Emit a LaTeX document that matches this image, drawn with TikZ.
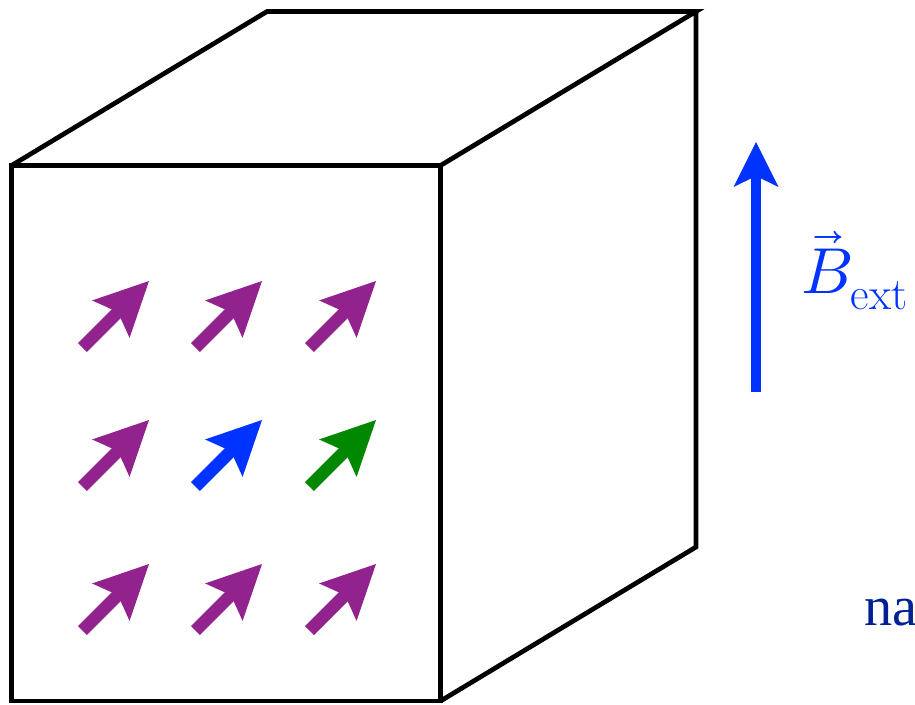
\documentclass[tikz,border=0pt]{standalone}
\usepackage{fontspec}
\usepackage{unicode-math}
\newfontfamily\tmsfont{Liberation Serif}
\usetikzlibrary{arrows.meta}
\definecolor{spinpurple}{RGB}{146,35,142}
\definecolor{spinblue}{RGB}{0,51,255}
\definecolor{spingreen}{RGB}{0,136,0}
\definecolor{labelnavy}{RGB}{0,32,150}
\tikzset{
  edge/.style   = {line width=0.094cm, line join=miter},
  spin/.style   = {line width=0.254cm,
                   -{Stealth[length=1.08cm, width=1.06cm, inset=0.2cm, line width=0pt]}},
  field/.style  = {spinblue, line width=0.2cm,
                   -{Stealth[length=0.9cm, width=0.9cm, inset=0.22cm, line width=0pt]}},
  biglabel/.style = {font=\fontsize{37}{44}\selectfont, inner sep=0pt, anchor=base west},
  nalabel/.style  = {font=\tmsfont\fontsize{32}{38}\selectfont, inner sep=0pt, anchor=base west},
}

\begin{document}
\begin{tikzpicture}[x=0.02cm,y=-0.02cm]
 \useasboundingbox (0,0) rectangle (915,704);
 % cube corners (front face, then back)
 \coordinate (ftl) at (11.5,165.5);
 \coordinate (ftr) at (440.5,165.5);
 \coordinate (fbr) at (440.5,701);
 \coordinate (fbl) at (11.5,701);
 \coordinate (btl) at (267,11.5);
 \coordinate (btr) at (696,11.5);
 \coordinate (bbr) at (696,547);
 \draw[edge] (ftl) -- (ftr) -- (fbr) -- (fbl) -- cycle;
 \draw[edge] (ftl) -- (btl) -- (btr) -- (ftr);
 \draw[edge] (btr) -- (bbr) -- (fbr);
 % spins on the front face
 \foreach \px/\py/\clr in {149/281/spinpurple, 262/281/spinpurple, 376/281/spinpurple,
                           149/420/spinpurple, 262/420/spinblue,   376/420/spingreen,
                           149/564/spinpurple, 262/564/spinpurple, 376/564/spinpurple}{
   \draw[spin,\clr] (\px-66.5,\py+66.5) -- (\px,\py);}
 % external field
 \coordinate (bfoot) at (756,392);
 \coordinate (bhead) at (756,142);
 \draw[field] (bfoot) -- (bhead);
 \node[biglabel,spinblue] (bext) at (801,293) {$\vec{B}_{\mathrm{ext}}$};
 \node[nalabel,labelnavy] (na) at (864,625) {na};
\end{tikzpicture}
\end{document}
